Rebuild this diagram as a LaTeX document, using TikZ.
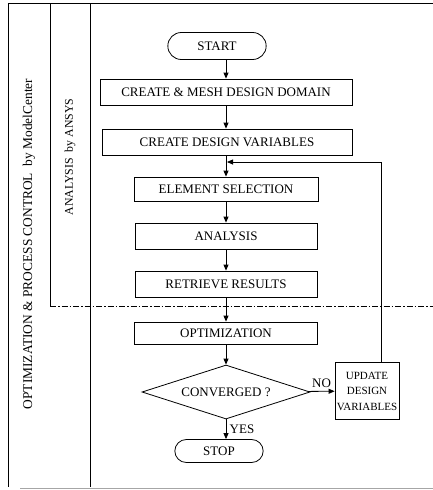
\documentclass[tikz,border=0pt]{standalone}
\usepackage{fontspec}
\setmainfont{Liberation Serif}
\usetikzlibrary{arrows.meta,shapes.geometric,shapes.misc}

\tikzset{
    chartfont/.style={font=\fontsize{13}{15.5}\selectfont},
    stepbox/.style={draw, thick, rectangle, minimum height=26pt, inner sep=2pt, chartfont},
    termbox/.style={draw, thick, rounded rectangle, minimum height=26pt, chartfont},
    decbox/.style={draw, thick, diamond, aspect=3.1, minimum width=168pt, minimum height=54pt, inner sep=0pt, chartfont},
    flow/.style={->, thick, >={Triangle[length=6pt,width=5pt]}},
    frame/.style={line width=1pt}
}

\begin{document}
\begin{tikzpicture}[x=1pt,y=-1pt]
    \useasboundingbox (0,0) rectangle (433,490);

    % frame of the lanes
    \draw[frame] (8,3) -- (433,3);
    \draw[frame] (8,3) -- (8,487);
    \draw[frame] (50,3) -- (50,306);
    \draw[frame] (90,3) -- (90,487);
    \draw[thick, dash pattern=on 6pt off 2pt on 1.5pt off 2pt] (50,306) -- (433,306);
    \draw[gray!70] (20,488) -- (433,488);

    \node[rotate=90, font=\fontsize{13.4}{15}\selectfont] (optlane) at (29,244) {OPTIMIZATION \& PROCESS CONTROL\ \ by ModelCenter};
    \node[rotate=90, font=\fontsize{11.8}{14}\selectfont] (anslane) at (70,157) {ANALYSIS\ \ by ANSYS};

    % flow chart
    \node[termbox, minimum width=105pt, minimum height=27pt] (start) at (217,46) {START};
    \node[stepbox, minimum width=252pt] (mesh) at (226,92) {CREATE \& MESH DESIGN DOMAIN};
    \node[stepbox, minimum width=250pt] (vars) at (227,142) {CREATE DESIGN VARIABLES};
    \node[stepbox, minimum width=184pt, minimum height=24pt] (elem) at (226,189) {ELEMENT SELECTION};
    \node[stepbox, minimum width=182pt] (anal) at (226,236) {ANALYSIS};
    \node[stepbox, minimum width=182pt] (retr) at (226,284) {RETRIEVE RESULTS};
    \node[stepbox, minimum width=183pt, minimum height=22pt] (opti) at (226,333) {OPTIMIZATION};
    \node[decbox] (conv) at (226,392) {CONVERGED ?};
    \node[stepbox, inner sep=0pt, minimum width=64pt, minimum height=57pt, align=center,
          font=\fontsize{11}{15.5}\selectfont] (upd) at (367,391) {UPDATE\\DESIGN\\VARIABLES};
    \node[termbox, minimum width=95pt, minimum height=23pt] (stop) at (219,451) {STOP};

    \coordinate (loop) at (381,162);
    \coordinate (join) at (227,162);

    \draw[flow] (start.south -| mesh) -- (mesh);
    \draw[flow] (mesh) -- (mesh |- vars.north);
    \draw[flow] (mesh |- vars.south) -- (elem);
    \draw[flow] (elem) -- (anal);
    \draw[flow] (anal) -- (retr);
    \draw[flow] (retr) -- (opti);
    \draw[flow] (opti) -- (conv);
    \draw[flow] (conv) -- node[above, chartfont] {NO} (upd);
    \draw[flow] (conv.south) -- node[right, chartfont] {YES} (stop.north -| conv.south);
    \draw[flow] (upd.north -| loop) -- (loop) -- (join);
\end{tikzpicture}
\end{document}
